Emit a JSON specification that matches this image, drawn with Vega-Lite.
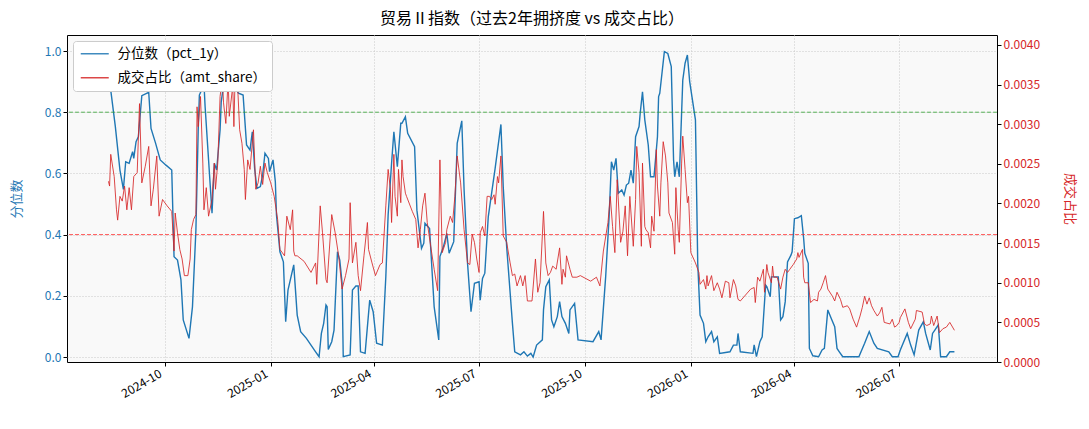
{
  "$schema": "https://vega.github.io/schema/vega-lite/v6.json",
  "width": 930,
  "height": 327,
  "autosize": {"type": "none"},
  "padding": {"left": 67, "top": 35, "right": 92, "bottom": 67},
  "background": "white",
  "config": {
    "font": "Noto Sans CJK SC",
    "view": {"fill": "#f9f9f9", "stroke": "#000000", "strokeWidth": 1},
    "axis": {"labelFontSize": 12, "titleFontSize": 13, "titleFontWeight": "normal", "tickColor": "#000000", "tickSize": 4, "domain": false, "labelColor": "#000000"}
  },
  "title": {"text": "贸易Ⅱ指数（过去2年拥挤度 vs 成交占比）", "fontSize": 16, "fontWeight": "normal", "offset": 8, "anchor": "middle", "color": "#000000"},
  "datasets": {
    "pct": [
      {"date": "2024-08-13", "v": 0.932}, {"date": "2024-08-19", "v": 0.753}, {"date": "2024-08-23", "v": 0.611}, {"date": "2024-08-26", "v": 0.548},
      {"date": "2024-08-28", "v": 0.638}, {"date": "2024-08-31", "v": 0.633}, {"date": "2024-09-03", "v": 0.671}, {"date": "2024-09-04", "v": 0.649},
      {"date": "2024-09-06", "v": 0.704}, {"date": "2024-09-08", "v": 0.72}, {"date": "2024-09-11", "v": 0.854}, {"date": "2024-09-17", "v": 0.865},
      {"date": "2024-09-19", "v": 0.747}, {"date": "2024-09-23", "v": 0.698}, {"date": "2024-09-27", "v": 0.644}, {"date": "2024-10-02", "v": 0.627},
      {"date": "2024-10-07", "v": 0.611}, {"date": "2024-10-09", "v": 0.328}, {"date": "2024-10-12", "v": 0.317}, {"date": "2024-10-15", "v": 0.252},
      {"date": "2024-10-17", "v": 0.121}, {"date": "2024-10-22", "v": 0.061}, {"date": "2024-10-25", "v": 0.164}, {"date": "2024-10-28", "v": 0.415},
      {"date": "2024-10-30", "v": 0.742}, {"date": "2024-10-31", "v": 0.856}, {"date": "2024-11-02", "v": 0.873}, {"date": "2024-11-04", "v": 0.894},
      {"date": "2024-11-05", "v": 0.818}, {"date": "2024-11-08", "v": 0.644}, {"date": "2024-11-11", "v": 0.47}, {"date": "2024-11-13", "v": 0.633},
      {"date": "2024-11-15", "v": 0.611}, {"date": "2024-11-18", "v": 0.742}, {"date": "2024-11-19", "v": 0.834}, {"date": "2024-11-21", "v": 0.889},
      {"date": "2024-11-25", "v": 0.905}, {"date": "2024-11-28", "v": 0.894}, {"date": "2024-12-04", "v": 0.862}, {"date": "2024-12-08", "v": 0.856},
      {"date": "2024-12-11", "v": 0.693}, {"date": "2024-12-14", "v": 0.676}, {"date": "2024-12-16", "v": 0.736}, {"date": "2024-12-18", "v": 0.617},
      {"date": "2024-12-20", "v": 0.551}, {"date": "2024-12-23", "v": 0.557}, {"date": "2024-12-25", "v": 0.595}, {"date": "2024-12-27", "v": 0.666},
      {"date": "2024-12-30", "v": 0.649}, {"date": "2024-12-31", "v": 0.606}, {"date": "2025-01-03", "v": 0.644}, {"date": "2025-01-05", "v": 0.573},
      {"date": "2025-01-06", "v": 0.464}, {"date": "2025-01-09", "v": 0.344}, {"date": "2025-01-12", "v": 0.311}, {"date": "2025-01-14", "v": 0.115},
      {"date": "2025-01-16", "v": 0.219}, {"date": "2025-01-21", "v": 0.301}, {"date": "2025-01-24", "v": 0.137}, {"date": "2025-01-27", "v": 0.083},
      {"date": "2025-02-01", "v": 0.061}, {"date": "2025-02-09", "v": 0.017}, {"date": "2025-02-12", "v": 0.001}, {"date": "2025-02-14", "v": 0.077},
      {"date": "2025-02-16", "v": 0.11}, {"date": "2025-02-18", "v": 0.17}, {"date": "2025-02-19", "v": 0.164}, {"date": "2025-02-20", "v": 0.025},
      {"date": "2025-02-23", "v": 0.05}, {"date": "2025-02-25", "v": 0.088}, {"date": "2025-02-28", "v": 0.344}, {"date": "2025-03-02", "v": 0.317},
      {"date": "2025-03-04", "v": 0.241}, {"date": "2025-03-05", "v": 0.001}, {"date": "2025-03-11", "v": 0.007}, {"date": "2025-03-13", "v": 0.219},
      {"date": "2025-03-16", "v": 0.232}, {"date": "2025-03-18", "v": 0.232}, {"date": "2025-03-20", "v": 0.017}, {"date": "2025-03-24", "v": 0.012},
      {"date": "2025-03-28", "v": 0.186}, {"date": "2025-03-31", "v": 0.148}, {"date": "2025-04-03", "v": 0.045}, {"date": "2025-04-08", "v": 0.039},
      {"date": "2025-04-11", "v": 0.262}, {"date": "2025-04-13", "v": 0.464}, {"date": "2025-04-16", "v": 0.633}, {"date": "2025-04-18", "v": 0.736},
      {"date": "2025-04-21", "v": 0.622}, {"date": "2025-04-24", "v": 0.764}, {"date": "2025-04-25", "v": 0.764}, {"date": "2025-04-28", "v": 0.785},
      {"date": "2025-04-30", "v": 0.731}, {"date": "2025-05-06", "v": 0.687}, {"date": "2025-05-08", "v": 0.48}, {"date": "2025-05-12", "v": 0.355},
      {"date": "2025-05-14", "v": 0.372}, {"date": "2025-05-15", "v": 0.437}, {"date": "2025-05-19", "v": 0.42}, {"date": "2025-05-23", "v": 0.164},
      {"date": "2025-05-27", "v": 0.056}, {"date": "2025-05-28", "v": 0.328}, {"date": "2025-05-31", "v": 0.36}, {"date": "2025-06-03", "v": 0.404},
      {"date": "2025-06-05", "v": 0.339}, {"date": "2025-06-09", "v": 0.377}, {"date": "2025-06-12", "v": 0.698}, {"date": "2025-06-16", "v": 0.772},
      {"date": "2025-06-18", "v": 0.546}, {"date": "2025-06-21", "v": 0.306}, {"date": "2025-06-24", "v": 0.148}, {"date": "2025-06-27", "v": 0.241},
      {"date": "2025-07-01", "v": 0.246}, {"date": "2025-07-02", "v": 0.186}, {"date": "2025-07-04", "v": 0.257}, {"date": "2025-07-06", "v": 0.274},
      {"date": "2025-07-09", "v": 0.458}, {"date": "2025-07-15", "v": 0.617}, {"date": "2025-07-20", "v": 0.76}, {"date": "2025-07-22", "v": 0.557},
      {"date": "2025-07-25", "v": 0.36}, {"date": "2025-07-30", "v": 0.11}, {"date": "2025-08-01", "v": 0.017}, {"date": "2025-08-06", "v": 0.007},
      {"date": "2025-08-09", "v": 0.017}, {"date": "2025-08-12", "v": 0.003}, {"date": "2025-08-15", "v": 0.012}, {"date": "2025-08-17", "v": 0.0},
      {"date": "2025-08-20", "v": 0.039}, {"date": "2025-08-25", "v": 0.056}, {"date": "2025-08-26", "v": 0.154}, {"date": "2025-08-28", "v": 0.23},
      {"date": "2025-08-31", "v": 0.252}, {"date": "2025-09-02", "v": 0.121}, {"date": "2025-09-04", "v": 0.099}, {"date": "2025-09-07", "v": 0.132},
      {"date": "2025-09-09", "v": 0.181}, {"date": "2025-09-11", "v": 0.132}, {"date": "2025-09-14", "v": 0.11}, {"date": "2025-09-17", "v": 0.077},
      {"date": "2025-09-18", "v": 0.154}, {"date": "2025-09-22", "v": 0.175}, {"date": "2025-09-25", "v": 0.056}, {"date": "2025-10-08", "v": 0.05},
      {"date": "2025-10-13", "v": 0.083}, {"date": "2025-10-15", "v": 0.056}, {"date": "2025-10-19", "v": 0.262}, {"date": "2025-10-22", "v": 0.458},
      {"date": "2025-10-24", "v": 0.638}, {"date": "2025-10-26", "v": 0.611}, {"date": "2025-10-28", "v": 0.649}, {"date": "2025-10-30", "v": 0.535},
      {"date": "2025-11-02", "v": 0.546}, {"date": "2025-11-04", "v": 0.529}, {"date": "2025-11-06", "v": 0.562}, {"date": "2025-11-08", "v": 0.568},
      {"date": "2025-11-10", "v": 0.611}, {"date": "2025-11-12", "v": 0.568}, {"date": "2025-11-14", "v": 0.72}, {"date": "2025-11-17", "v": 0.753},
      {"date": "2025-11-18", "v": 0.796}, {"date": "2025-11-20", "v": 0.867}, {"date": "2025-11-22", "v": 0.775}, {"date": "2025-11-25", "v": 0.693},
      {"date": "2025-11-27", "v": 0.589}, {"date": "2025-11-30", "v": 0.589}, {"date": "2025-12-03", "v": 0.72}, {"date": "2025-12-04", "v": 0.851},
      {"date": "2025-12-05", "v": 0.862}, {"date": "2025-12-09", "v": 0.998}, {"date": "2025-12-12", "v": 0.992}, {"date": "2025-12-15", "v": 0.949},
      {"date": "2025-12-17", "v": 0.644}, {"date": "2025-12-18", "v": 0.589}, {"date": "2025-12-20", "v": 0.638}, {"date": "2025-12-22", "v": 0.589},
      {"date": "2025-12-25", "v": 0.905}, {"date": "2025-12-27", "v": 0.96}, {"date": "2025-12-29", "v": 0.987}, {"date": "2025-12-31", "v": 0.9},
      {"date": "2026-01-05", "v": 0.775}, {"date": "2026-01-07", "v": 0.306}, {"date": "2026-01-09", "v": 0.137}, {"date": "2026-01-12", "v": 0.11},
      {"date": "2026-01-14", "v": 0.05}, {"date": "2026-01-16", "v": 0.066}, {"date": "2026-01-19", "v": 0.083}, {"date": "2026-01-21", "v": 0.05},
      {"date": "2026-01-24", "v": 0.066}, {"date": "2026-01-26", "v": 0.012}, {"date": "2026-02-04", "v": 0.017}, {"date": "2026-02-07", "v": 0.039},
      {"date": "2026-02-10", "v": 0.039}, {"date": "2026-02-11", "v": 0.077}, {"date": "2026-02-13", "v": 0.017}, {"date": "2026-02-24", "v": 0.012},
      {"date": "2026-02-25", "v": 0.04}, {"date": "2026-02-27", "v": 0.001}, {"date": "2026-03-02", "v": 0.05}, {"date": "2026-03-04", "v": 0.066},
      {"date": "2026-03-05", "v": 0.121}, {"date": "2026-03-07", "v": 0.235}, {"date": "2026-03-08", "v": 0.23}, {"date": "2026-03-11", "v": 0.197},
      {"date": "2026-03-12", "v": 0.262}, {"date": "2026-03-18", "v": 0.262}, {"date": "2026-03-20", "v": 0.121}, {"date": "2026-03-22", "v": 0.132},
      {"date": "2026-03-24", "v": 0.181}, {"date": "2026-03-26", "v": 0.311}, {"date": "2026-03-29", "v": 0.333}, {"date": "2026-03-30", "v": 0.344},
      {"date": "2026-04-01", "v": 0.452}, {"date": "2026-04-04", "v": 0.455}, {"date": "2026-04-07", "v": 0.462}, {"date": "2026-04-09", "v": 0.388},
      {"date": "2026-04-10", "v": 0.339}, {"date": "2026-04-13", "v": 0.306}, {"date": "2026-04-14", "v": 0.028}, {"date": "2026-04-17", "v": 0.004},
      {"date": "2026-04-22", "v": 0.001}, {"date": "2026-04-25", "v": 0.023}, {"date": "2026-04-27", "v": 0.028}, {"date": "2026-04-30", "v": 0.154},
      {"date": "2026-05-03", "v": 0.126}, {"date": "2026-05-06", "v": 0.099}, {"date": "2026-05-08", "v": 0.028}, {"date": "2026-05-10", "v": 0.017},
      {"date": "2026-05-13", "v": 0.001}, {"date": "2026-05-27", "v": 0.001}, {"date": "2026-06-01", "v": 0.045}, {"date": "2026-06-05", "v": 0.083},
      {"date": "2026-06-09", "v": 0.045}, {"date": "2026-06-12", "v": 0.028}, {"date": "2026-06-22", "v": 0.017}, {"date": "2026-06-25", "v": 0.001},
      {"date": "2026-06-30", "v": 0.001}, {"date": "2026-07-02", "v": 0.023}, {"date": "2026-07-08", "v": 0.077}, {"date": "2026-07-11", "v": 0.039},
      {"date": "2026-07-14", "v": 0.007}, {"date": "2026-07-18", "v": 0.088}, {"date": "2026-07-22", "v": 0.115}, {"date": "2026-07-24", "v": 0.077},
      {"date": "2026-07-28", "v": 0.023}, {"date": "2026-07-30", "v": 0.077}, {"date": "2026-08-01", "v": 0.088}, {"date": "2026-08-04", "v": 0.105},
      {"date": "2026-08-06", "v": 0.001}, {"date": "2026-08-11", "v": 0.001}, {"date": "2026-08-14", "v": 0.017}, {"date": "2026-08-18", "v": 0.017}
    ],
    "amt": [
      {"date": "2024-08-13", "v": 0.00228}, {"date": "2024-08-14", "v": 0.00222}, {"date": "2024-08-15", "v": 0.00262}, {"date": "2024-08-18", "v": 0.00234},
      {"date": "2024-08-20", "v": 0.00192}, {"date": "2024-08-21", "v": 0.00179}, {"date": "2024-08-23", "v": 0.00209}, {"date": "2024-08-25", "v": 0.00203},
      {"date": "2024-08-27", "v": 0.00222}, {"date": "2024-08-29", "v": 0.00192}, {"date": "2024-08-31", "v": 0.0022}, {"date": "2024-09-02", "v": 0.00192},
      {"date": "2024-09-04", "v": 0.00234}, {"date": "2024-09-07", "v": 0.00239}, {"date": "2024-09-09", "v": 0.00326}, {"date": "2024-09-11", "v": 0.00226},
      {"date": "2024-09-14", "v": 0.00247}, {"date": "2024-09-17", "v": 0.00272}, {"date": "2024-09-19", "v": 0.00197}, {"date": "2024-09-21", "v": 0.00218},
      {"date": "2024-09-24", "v": 0.0026}, {"date": "2024-09-26", "v": 0.00184}, {"date": "2024-09-29", "v": 0.00205}, {"date": "2024-10-03", "v": 0.00197},
      {"date": "2024-10-07", "v": 0.0019}, {"date": "2024-10-09", "v": 0.0014}, {"date": "2024-10-10", "v": 0.00188}, {"date": "2024-10-12", "v": 0.00163},
      {"date": "2024-10-14", "v": 0.00142}, {"date": "2024-10-16", "v": 0.0013}, {"date": "2024-10-18", "v": 0.00109}, {"date": "2024-10-21", "v": 0.00109},
      {"date": "2024-10-23", "v": 0.0013}, {"date": "2024-10-24", "v": 0.00167}, {"date": "2024-10-26", "v": 0.0018}, {"date": "2024-10-28", "v": 0.00186},
      {"date": "2024-10-29", "v": 0.00322}, {"date": "2024-10-30", "v": 0.00297}, {"date": "2024-11-01", "v": 0.00335}, {"date": "2024-11-03", "v": 0.00251},
      {"date": "2024-11-04", "v": 0.00192}, {"date": "2024-11-06", "v": 0.0022}, {"date": "2024-11-08", "v": 0.00184}, {"date": "2024-11-11", "v": 0.00205},
      {"date": "2024-11-13", "v": 0.00251}, {"date": "2024-11-14", "v": 0.00218}, {"date": "2024-11-16", "v": 0.00251}, {"date": "2024-11-18", "v": 0.00335},
      {"date": "2024-11-20", "v": 0.00358}, {"date": "2024-11-21", "v": 0.00327}, {"date": "2024-11-23", "v": 0.00301}, {"date": "2024-11-25", "v": 0.00356},
      {"date": "2024-11-26", "v": 0.0031}, {"date": "2024-11-29", "v": 0.00348}, {"date": "2024-11-30", "v": 0.00297}, {"date": "2024-12-01", "v": 0.00356},
      {"date": "2024-12-03", "v": 0.00356}, {"date": "2024-12-05", "v": 0.00293}, {"date": "2024-12-07", "v": 0.00276}, {"date": "2024-12-09", "v": 0.00243},
      {"date": "2024-12-10", "v": 0.00205}, {"date": "2024-12-12", "v": 0.00255}, {"date": "2024-12-14", "v": 0.00243}, {"date": "2024-12-17", "v": 0.00293},
      {"date": "2024-12-19", "v": 0.00218}, {"date": "2024-12-21", "v": 0.00226}, {"date": "2024-12-23", "v": 0.00247}, {"date": "2024-12-25", "v": 0.00224},
      {"date": "2024-12-27", "v": 0.00251}, {"date": "2024-12-29", "v": 0.00239}, {"date": "2025-01-01", "v": 0.00226}, {"date": "2025-01-04", "v": 0.00209},
      {"date": "2025-01-07", "v": 0.0018}, {"date": "2025-01-09", "v": 0.00142}, {"date": "2025-01-13", "v": 0.00134}, {"date": "2025-01-15", "v": 0.00184},
      {"date": "2025-01-18", "v": 0.00167}, {"date": "2025-01-20", "v": 0.00192}, {"date": "2025-01-21", "v": 0.0014}, {"date": "2025-01-22", "v": 0.00134},
      {"date": "2025-01-24", "v": 0.00134}, {"date": "2025-01-30", "v": 0.00127}, {"date": "2025-02-05", "v": 0.00113}, {"date": "2025-02-09", "v": 0.00125},
      {"date": "2025-02-10", "v": 0.00098}, {"date": "2025-02-13", "v": 0.00197}, {"date": "2025-02-15", "v": 0.00163}, {"date": "2025-02-18", "v": 0.00104},
      {"date": "2025-02-19", "v": 0.001}, {"date": "2025-02-23", "v": 0.00186}, {"date": "2025-02-26", "v": 0.00163}, {"date": "2025-03-01", "v": 0.00134},
      {"date": "2025-03-04", "v": 0.00092}, {"date": "2025-03-07", "v": 0.00109}, {"date": "2025-03-10", "v": 0.0013}, {"date": "2025-03-11", "v": 0.00201},
      {"date": "2025-03-13", "v": 0.00125}, {"date": "2025-03-16", "v": 0.00151}, {"date": "2025-03-18", "v": 0.00109}, {"date": "2025-03-20", "v": 0.0009},
      {"date": "2025-03-23", "v": 0.00134}, {"date": "2025-03-26", "v": 0.00176}, {"date": "2025-03-27", "v": 0.00142}, {"date": "2025-03-30", "v": 0.00125},
      {"date": "2025-04-02", "v": 0.00109}, {"date": "2025-04-06", "v": 0.00123}, {"date": "2025-04-08", "v": 0.00125}, {"date": "2025-04-11", "v": 0.00197},
      {"date": "2025-04-13", "v": 0.00243}, {"date": "2025-04-15", "v": 0.00218}, {"date": "2025-04-16", "v": 0.00176}, {"date": "2025-04-18", "v": 0.00262},
      {"date": "2025-04-19", "v": 0.00209}, {"date": "2025-04-21", "v": 0.00184}, {"date": "2025-04-22", "v": 0.00243}, {"date": "2025-04-24", "v": 0.00201},
      {"date": "2025-04-25", "v": 0.00255}, {"date": "2025-04-26", "v": 0.00234}, {"date": "2025-04-28", "v": 0.00213}, {"date": "2025-04-29", "v": 0.00209},
      {"date": "2025-05-04", "v": 0.0019}, {"date": "2025-05-07", "v": 0.0018}, {"date": "2025-05-09", "v": 0.00144}, {"date": "2025-05-11", "v": 0.00167},
      {"date": "2025-05-13", "v": 0.00197}, {"date": "2025-05-15", "v": 0.00213}, {"date": "2025-05-17", "v": 0.00176}, {"date": "2025-05-20", "v": 0.00146},
      {"date": "2025-05-23", "v": 0.00117}, {"date": "2025-05-26", "v": 0.0009}, {"date": "2025-05-28", "v": 0.00255}, {"date": "2025-05-30", "v": 0.00138},
      {"date": "2025-06-02", "v": 0.00151}, {"date": "2025-06-03", "v": 0.00167}, {"date": "2025-06-06", "v": 0.00184}, {"date": "2025-06-08", "v": 0.00176},
      {"date": "2025-06-10", "v": 0.00209}, {"date": "2025-06-12", "v": 0.0026}, {"date": "2025-06-15", "v": 0.00226}, {"date": "2025-06-18", "v": 0.00167},
      {"date": "2025-06-21", "v": 0.00125}, {"date": "2025-06-23", "v": 0.00123}, {"date": "2025-06-25", "v": 0.00161}, {"date": "2025-06-27", "v": 0.00151},
      {"date": "2025-06-29", "v": 0.0013}, {"date": "2025-07-01", "v": 0.00113}, {"date": "2025-07-02", "v": 0.00163}, {"date": "2025-07-04", "v": 0.00171},
      {"date": "2025-07-06", "v": 0.00159}, {"date": "2025-07-08", "v": 0.00209}, {"date": "2025-07-10", "v": 0.00209}, {"date": "2025-07-12", "v": 0.00205},
      {"date": "2025-07-14", "v": 0.00211}, {"date": "2025-07-15", "v": 0.00199}, {"date": "2025-07-17", "v": 0.00234}, {"date": "2025-07-18", "v": 0.00226},
      {"date": "2025-07-20", "v": 0.0026}, {"date": "2025-07-22", "v": 0.00159}, {"date": "2025-07-25", "v": 0.00151}, {"date": "2025-07-28", "v": 0.00125},
      {"date": "2025-07-30", "v": 0.00109}, {"date": "2025-08-01", "v": 0.00111}, {"date": "2025-08-03", "v": 0.00096}, {"date": "2025-08-06", "v": 0.00109},
      {"date": "2025-08-08", "v": 0.00096}, {"date": "2025-08-10", "v": 0.00109}, {"date": "2025-08-12", "v": 0.00077}, {"date": "2025-08-16", "v": 0.00077},
      {"date": "2025-08-19", "v": 0.0013}, {"date": "2025-08-21", "v": 0.00088}, {"date": "2025-08-23", "v": 0.001}, {"date": "2025-08-26", "v": 0.0019},
      {"date": "2025-08-28", "v": 0.00125}, {"date": "2025-08-30", "v": 0.00109}, {"date": "2025-09-01", "v": 0.00113}, {"date": "2025-09-03", "v": 0.00121},
      {"date": "2025-09-06", "v": 0.00117}, {"date": "2025-09-09", "v": 0.00144}, {"date": "2025-09-11", "v": 0.00098}, {"date": "2025-09-12", "v": 0.00117},
      {"date": "2025-09-14", "v": 0.00107}, {"date": "2025-09-15", "v": 0.00134}, {"date": "2025-09-18", "v": 0.00117}, {"date": "2025-09-20", "v": 0.00107},
      {"date": "2025-09-24", "v": 0.00107}, {"date": "2025-09-27", "v": 0.00109}, {"date": "2025-10-06", "v": 0.00102}, {"date": "2025-10-11", "v": 0.00107},
      {"date": "2025-10-14", "v": 0.00096}, {"date": "2025-10-17", "v": 0.0014}, {"date": "2025-10-21", "v": 0.00176}, {"date": "2025-10-23", "v": 0.00209},
      {"date": "2025-10-25", "v": 0.00171}, {"date": "2025-10-27", "v": 0.00138}, {"date": "2025-10-29", "v": 0.0023}, {"date": "2025-11-01", "v": 0.00151},
      {"date": "2025-11-03", "v": 0.00165}, {"date": "2025-11-05", "v": 0.00197}, {"date": "2025-11-07", "v": 0.00134}, {"date": "2025-11-09", "v": 0.00209},
      {"date": "2025-11-12", "v": 0.00146}, {"date": "2025-11-14", "v": 0.00205}, {"date": "2025-11-15", "v": 0.00272}, {"date": "2025-11-17", "v": 0.00239},
      {"date": "2025-11-19", "v": 0.00146}, {"date": "2025-11-20", "v": 0.00251}, {"date": "2025-11-22", "v": 0.00171}, {"date": "2025-11-23", "v": 0.00167},
      {"date": "2025-11-25", "v": 0.00163}, {"date": "2025-11-27", "v": 0.00144}, {"date": "2025-11-28", "v": 0.00184}, {"date": "2025-11-30", "v": 0.00165},
      {"date": "2025-12-02", "v": 0.00268}, {"date": "2025-12-03", "v": 0.00222}, {"date": "2025-12-05", "v": 0.00184}, {"date": "2025-12-06", "v": 0.00226},
      {"date": "2025-12-08", "v": 0.00278}, {"date": "2025-12-10", "v": 0.0026}, {"date": "2025-12-12", "v": 0.00226}, {"date": "2025-12-13", "v": 0.00188},
      {"date": "2025-12-16", "v": 0.00176}, {"date": "2025-12-18", "v": 0.00136}, {"date": "2025-12-19", "v": 0.0022}, {"date": "2025-12-21", "v": 0.00167},
      {"date": "2025-12-22", "v": 0.00151}, {"date": "2025-12-24", "v": 0.00251}, {"date": "2025-12-25", "v": 0.00285}, {"date": "2025-12-27", "v": 0.00243},
      {"date": "2025-12-29", "v": 0.00201}, {"date": "2025-12-30", "v": 0.00209}, {"date": "2026-01-01", "v": 0.00138}, {"date": "2026-01-05", "v": 0.00125},
      {"date": "2026-01-08", "v": 0.00113}, {"date": "2026-01-09", "v": 0.00098}, {"date": "2026-01-12", "v": 0.00104}, {"date": "2026-01-14", "v": 0.00092},
      {"date": "2026-01-15", "v": 0.00109}, {"date": "2026-01-16", "v": 0.00096}, {"date": "2026-01-19", "v": 0.00109}, {"date": "2026-01-21", "v": 0.0009},
      {"date": "2026-01-24", "v": 0.001}, {"date": "2026-01-26", "v": 0.00092}, {"date": "2026-01-28", "v": 0.00081}, {"date": "2026-01-31", "v": 0.00102},
      {"date": "2026-02-03", "v": 0.001}, {"date": "2026-02-04", "v": 0.00081}, {"date": "2026-02-07", "v": 0.00104}, {"date": "2026-02-09", "v": 0.00096},
      {"date": "2026-02-11", "v": 0.00079}, {"date": "2026-02-13", "v": 0.00077}, {"date": "2026-02-22", "v": 0.00092}, {"date": "2026-02-25", "v": 0.00094},
      {"date": "2026-02-26", "v": 0.00075}, {"date": "2026-02-28", "v": 0.00107}, {"date": "2026-03-02", "v": 0.00102}, {"date": "2026-03-05", "v": 0.00117},
      {"date": "2026-03-06", "v": 0.00088}, {"date": "2026-03-08", "v": 0.00123}, {"date": "2026-03-09", "v": 0.00113}, {"date": "2026-03-12", "v": 0.001},
      {"date": "2026-03-13", "v": 0.00121}, {"date": "2026-03-14", "v": 0.00107}, {"date": "2026-03-17", "v": 0.00107}, {"date": "2026-03-20", "v": 0.00092},
      {"date": "2026-03-22", "v": 0.00107}, {"date": "2026-03-24", "v": 0.00117}, {"date": "2026-03-26", "v": 0.00113}, {"date": "2026-03-28", "v": 0.00117},
      {"date": "2026-03-31", "v": 0.00123}, {"date": "2026-04-03", "v": 0.0013}, {"date": "2026-04-04", "v": 0.00138}, {"date": "2026-04-05", "v": 0.00132},
      {"date": "2026-04-08", "v": 0.00142}, {"date": "2026-04-09", "v": 0.00107}, {"date": "2026-04-10", "v": 0.001}, {"date": "2026-04-13", "v": 0.001},
      {"date": "2026-04-15", "v": 0.00075}, {"date": "2026-04-18", "v": 0.00079}, {"date": "2026-04-21", "v": 0.00077}, {"date": "2026-04-22", "v": 0.00088},
      {"date": "2026-04-24", "v": 0.00092}, {"date": "2026-04-26", "v": 0.001}, {"date": "2026-04-28", "v": 0.00109}, {"date": "2026-04-30", "v": 0.00092},
      {"date": "2026-05-04", "v": 0.00083}, {"date": "2026-05-06", "v": 0.00077}, {"date": "2026-05-08", "v": 0.00088}, {"date": "2026-05-11", "v": 0.00079},
      {"date": "2026-05-13", "v": 0.00069}, {"date": "2026-05-17", "v": 0.00071}, {"date": "2026-05-19", "v": 0.00067}, {"date": "2026-05-22", "v": 0.00054},
      {"date": "2026-05-25", "v": 0.00044}, {"date": "2026-05-28", "v": 0.00058}, {"date": "2026-05-30", "v": 0.00069}, {"date": "2026-06-01", "v": 0.00083},
      {"date": "2026-06-03", "v": 0.00073}, {"date": "2026-06-05", "v": 0.00081}, {"date": "2026-06-07", "v": 0.00071}, {"date": "2026-06-09", "v": 0.00065},
      {"date": "2026-06-12", "v": 0.00058}, {"date": "2026-06-14", "v": 0.00062}, {"date": "2026-06-16", "v": 0.00069}, {"date": "2026-06-18", "v": 0.0005},
      {"date": "2026-06-23", "v": 0.00048}, {"date": "2026-06-25", "v": 0.00054}, {"date": "2026-06-27", "v": 0.00044}, {"date": "2026-06-29", "v": 0.00046},
      {"date": "2026-07-01", "v": 0.0005}, {"date": "2026-07-02", "v": 0.00056}, {"date": "2026-07-06", "v": 0.00067}, {"date": "2026-07-09", "v": 0.0005},
      {"date": "2026-07-11", "v": 0.00042}, {"date": "2026-07-15", "v": 0.00054}, {"date": "2026-07-16", "v": 0.00065}, {"date": "2026-07-21", "v": 0.00063},
      {"date": "2026-07-23", "v": 0.00048}, {"date": "2026-07-25", "v": 0.00046}, {"date": "2026-07-28", "v": 0.00048}, {"date": "2026-07-29", "v": 0.00058},
      {"date": "2026-07-31", "v": 0.00046}, {"date": "2026-08-01", "v": 0.0005}, {"date": "2026-08-03", "v": 0.00058}, {"date": "2026-08-05", "v": 0.00037},
      {"date": "2026-08-08", "v": 0.00042}, {"date": "2026-08-11", "v": 0.00044}, {"date": "2026-08-14", "v": 0.0005}, {"date": "2026-08-18", "v": 0.0004}
    ],
    "ref": [
      {"y": 0.8, "c": "#2ca02c"},
      {"y": 0.4, "c": "#ff2020"}
    ]
  },
  "layer": [
    {
      "data": {"name": "pct"},
      "mark": {"type": "line", "strokeWidth": 1.4},
      "encoding": {
        "x": {
          "field": "date", "type": "temporal",
          "scale": {"domain": [{"year": 2024, "month": 7, "date": 8}, {"year": 2026, "month": 9, "date": 24}]},
          "axis": {
            "title": null, "format": "%Y-%m", "labelAngle": -30, "labelAlign": "right", "labelBaseline": "top", "labelOffset": -7,
            "values": [{"year": 2024, "month": 10, "date": 1}, {"year": 2025, "month": 1, "date": 1}, {"year": 2025, "month": 4, "date": 1}, {"year": 2025, "month": 7, "date": 1}, {"year": 2025, "month": 10, "date": 1}, {"year": 2026, "month": 1, "date": 1}, {"year": 2026, "month": 4, "date": 1}, {"year": 2026, "month": 7, "date": 1}],
            "grid": true, "gridDash": [1, 2], "gridColor": "#c8c8c8", "labelPadding": 2
          }
        },
        "y": {
          "field": "v", "type": "quantitative",
          "scale": {"domain": [-0.0163, 1.0523], "nice": false, "zero": false},
          "axis": {"title": "分位数", "orient": "left", "values": [0, 0.2, 0.4, 0.6, 0.8, 1.0], "format": ".1f", "labelColor": "#1f77b4", "titleColor": "#1f77b4", "grid": true, "gridDash": [1, 2], "gridColor": "#c8c8c8", "titlePadding": 21}
        },
        "color": {
          "datum": "分位数（pct_1y）", "type": "nominal",
          "scale": {"domain": ["分位数（pct_1y）", "成交占比（amt_share）"], "range": ["#1f77b4", "#d62728"]},
          "legend": {"title": null, "orient": "top-left", "offset": 6, "fillColor": "#ffffff", "strokeColor": "#cccccc", "cornerRadius": 3, "padding": 6, "symbolType": "M-1,0H4.6", "symbolSize": 100, "symbolStrokeWidth": 1.5, "labelFontSize": 13.5, "rowPadding": 9, "labelOffset": 25, "labelLimit": 300}
        }
      }
    },
    {
      "data": {"name": "ref"},
      "mark": {"type": "rule", "strokeDash": [4, 2], "strokeWidth": 1, "opacity": 0.75},
      "encoding": {
        "y": {"field": "y", "type": "quantitative", "scale": {"domain": [-0.0163, 1.0523], "nice": false, "zero": false}, "axis": null},
        "stroke": {"field": "c", "type": "nominal", "scale": null}
      }
    },
    {
      "data": {"name": "amt"},
      "mark": {"type": "line", "strokeWidth": 1, "opacity": 0.85},
      "encoding": {
        "x": {
          "field": "date", "type": "temporal",
          "scale": {"domain": [{"year": 2024, "month": 7, "date": 8}, {"year": 2026, "month": 9, "date": 24}]}
        },
        "y": {
          "field": "v", "type": "quantitative",
          "scale": {"domain": [0, 0.004126], "nice": false, "zero": false},
          "axis": {"title": "成交占比", "orient": "right", "values": [0, 0.0005, 0.001, 0.0015, 0.002, 0.0025, 0.003, 0.0035, 0.004], "format": ".4f", "labelColor": "#d62728", "titleColor": "#d62728", "grid": false, "titlePadding": 23}
        },
        "color": {"datum": "成交占比（amt_share）", "type": "nominal"}
      }
    }
  ],
  "resolve": {"scale": {"y": "independent"}}
}
